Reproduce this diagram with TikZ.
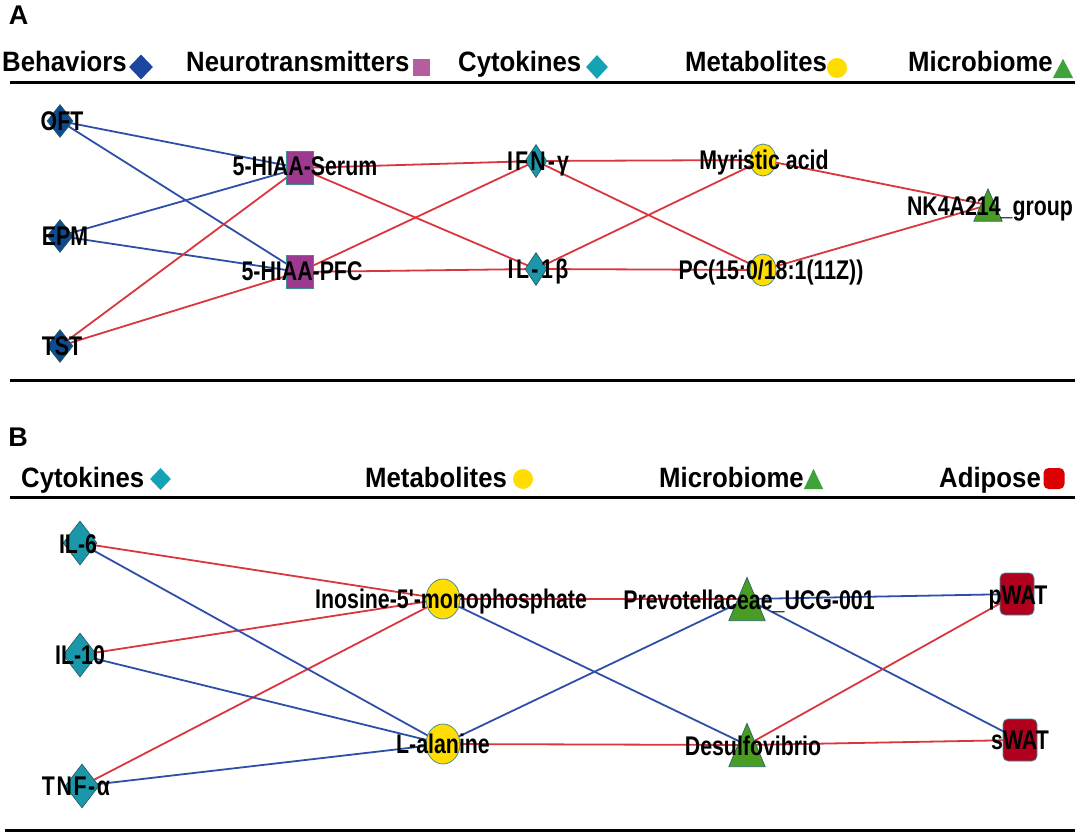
\documentclass[tikz,border=0pt]{standalone}
\usepackage{fontspec}
\setmainfont{Liberation Sans}[Ligatures=TeXOff]
\newfontfamily\hdrfont{Liberation Sans}[FakeStretch=0.92, Ligatures=TeXOff]
\newfontfamily\lblfont{Liberation Sans}[FakeStretch=0.79, Ligatures=TeXOff]
\usetikzlibrary{shapes.geometric}
\pgfdeclarelayer{bg}
\pgfsetlayers{bg,main}
\definecolor{edgered}{RGB}{217,54,62}
\definecolor{edgeblue}{RGB}{46,79,168}
\definecolor{behhead}{RGB}{28,71,160}
\definecolor{behnode}{RGB}{15,76,143}
\definecolor{neurohead}{RGB}{184,92,160}
\definecolor{neuronode}{RGB}{155,58,142}
\definecolor{cythead}{RGB}{19,163,180}
\definecolor{cytnode}{RGB}{26,152,170}
\definecolor{metyellow}{RGB}{255,221,0}
\definecolor{microhead}{RGB}{61,163,58}
\definecolor{micronode}{RGB}{74,157,36}
\definecolor{adihead}{RGB}{221,0,0}
\definecolor{adinode}{RGB}{176,0,30}
\definecolor{nodeborder}{RGB}{62,142,149}
\begin{document}
\begin{tikzpicture}[x=1pt,y=-1pt,
  hdr/.style={font=\hdrfont\fontsize{28}{28}\selectfont\bfseries, anchor=base west, inner sep=0pt},
  lbl/.style={font=\lblfont\fontsize{27}{27}\selectfont\bfseries, inner sep=0pt, text height=19pt, text depth=0pt},
  panel/.style={font=\fontsize{27}{27}\selectfont\bfseries, inner sep=0pt, text height=19pt, text depth=0pt},
  rule/.style={line width=3pt, black},
  redE/.style={draw=edgered, line width=1.8pt},
  blueE/.style={draw=edgeblue, line width=1.8pt},
  sdia/.style={diamond, inner sep=0pt, draw=none},
  ndia/.style={diamond, inner sep=0pt, draw=nodeborder!60!black, line width=0.6pt},
  nsq/.style={rectangle, inner sep=0pt, fill=neuronode, draw=nodeborder, line width=0.8pt},
  nell/.style={ellipse, inner sep=0pt, fill=metyellow, draw=nodeborder!80!gray, line width=0.8pt},
  nbox/.style={rectangle, inner sep=0pt, draw=none},
  ntri/.style={fill=micronode, draw=nodeborder!70!black, line width=0.7pt},
  nadi/.style={rectangle, rounded corners=5pt, inner sep=0pt, fill=adinode, draw=nodeborder, line width=0.8pt}
]
\useasboundingbox (0,0) rectangle (1080,837);

%% ---------------- Panel A ----------------
\node[panel] (pA) at (18.5,15) {A};
\node[hdr] (hBeh) at (2,72) {Behaviors};
\node[sdia, fill=behhead, minimum width=24pt, minimum height=25pt] (sBeh) at (141,67) {};
\node[hdr] (hNeu) at (186,72) {Neurotransmitters};
\node[rectangle, inner sep=0pt, fill=neurohead, minimum width=17pt, minimum height=17pt] (sNeu) at (421,68) {};
\node[hdr] (hCytA) at (458,72) {Cytokines};
\node[sdia, fill=cythead, minimum width=22pt, minimum height=24pt] (sCytA) at (597,67) {};
\node[hdr] (hMetA) at (685,72) {Metabolites};
\node[circle, inner sep=0pt, fill=metyellow, minimum size=20pt] (sMetA) at (837,68) {};
\node[hdr] (hMicA) at (908,72) {Microbiome};
\node[nbox, minimum width=20pt, minimum height=19pt] (sMicA) at (1063,68.5) {};
\fill[microhead] (sMicA.south west) -- (sMicA.south east) -- (sMicA.north) -- cycle;
\draw[rule] (10,83) -- (1075,83);
\draw[rule] (10,380) -- (1075,380);

% nodes A
\node[ndia, fill=behnode, minimum width=26pt, minimum height=33pt] (oft) at (60,121) {};
\node[ndia, fill=behnode, minimum width=26pt, minimum height=33pt] (epm) at (60,236) {};
\node[ndia, fill=behnode, minimum width=26pt, minimum height=33pt] (tst) at (60,346) {};
\node[nsq, minimum width=27pt, minimum height=33pt] (ser) at (299.5,168) {};
\node[nsq, minimum width=27pt, minimum height=33pt] (pfc) at (299.5,272) {};
\node[ndia, fill=cytnode, minimum width=22pt, minimum height=33pt] (ifn) at (536,161) {};
\node[ndia, fill=cytnode, minimum width=22pt, minimum height=33pt] (ilb) at (536,269) {};
\node[nell, minimum width=26pt, minimum height=32pt] (myr) at (763,160) {};
\node[nell, minimum width=26pt, minimum height=32pt] (pc) at (763,270) {};
\node[nbox, minimum width=28pt, minimum height=32pt] (nk) at (988,205) {};
\filldraw[ntri] (nk.south west) -- (nk.south east) -- (nk.north) -- cycle;

% edges A
\begin{pgfonlayer}{bg}
\draw[blueE] (oft.center) -- (ser.center);
\draw[blueE] (oft.center) -- (pfc.center);
\draw[blueE] (epm.center) -- (ser.center);
\draw[blueE] (epm.center) -- (pfc.center);
\draw[redE] (tst.center) -- (ser.center);
\draw[redE] (tst.center) -- (pfc.center);
\draw[redE] (ser.center) -- (ifn.center);
\draw[redE] (ser.center) -- (ilb.center);
\draw[redE] (pfc.center) -- (ifn.center);
\draw[redE] (pfc.center) -- (ilb.center);
\draw[redE] (ifn.center) -- (myr.center);
\draw[redE] (ifn.center) -- (pc.center);
\draw[redE] (ilb.center) -- (myr.center);
\draw[redE] (ilb.center) -- (pc.center);
\draw[redE] (myr.center) -- (nk.center);
\draw[redE] (pc.center) -- (nk.center);
\end{pgfonlayer}

% labels A
\node[lbl] (tOft) at (62,121) {OFT};
\node[lbl] (tEpm) at (65,236) {EPM};
\node[lbl] (tTst) at (62,346) {TST};
\node[lbl] (tSer) at (305,166) {5-HIAA-Serum};
\node[lbl] (tPfc) at (302,271) {5-HIAA-PFC};
\node[lbl] (tIfn) at (538,161) {\addfontfeature{LetterSpace=8}IFN-γ};
\node[lbl] (tIlb) at (538,269) {\addfontfeature{LetterSpace=9}IL-1β};
\node[lbl] (tMyr) at (764,160) {Myristic acid};
\node[lbl] (tPc) at (771,270) {PC(15:0/18:1(11Z))};
\node[lbl] (tNk) at (990,206) {NK4A214\_group};

%% ---------------- Panel B ----------------
\node[panel] (pB) at (18,437) {B};
\node[hdr] (hCytB) at (21,487) {Cytokines};
\node[sdia, fill=cythead, minimum width=21pt, minimum height=22pt] (sCytB) at (160.5,479) {};
\node[hdr] (hMetB) at (365,487) {Metabolites};
\node[circle, inner sep=0pt, fill=metyellow, minimum size=20pt] (sMetB) at (523,479) {};
\node[hdr] (hMicB) at (659,487) {Microbiome};
\node[nbox, minimum width=19pt, minimum height=20pt] (sMicB) at (813.5,479) {};
\fill[microhead] (sMicB.south west) -- (sMicB.south east) -- (sMicB.north) -- cycle;
\node[hdr] (hAdi) at (939,487) {Adipose};
\node[rectangle, rounded corners=5pt, inner sep=0pt, fill=adihead, minimum width=21pt, minimum height=21pt] (sAdi) at (1054,478.5) {};
\draw[rule] (10,497) -- (1075,497);
\draw[rule] (5,830) -- (1075,830);

% nodes B
\node[ndia, fill=cytnode, minimum width=34pt, minimum height=44pt] (il6) at (80,543) {};
\node[ndia, fill=cytnode, minimum width=34pt, minimum height=44pt] (il10) at (80,655) {};
\node[ndia, fill=cytnode, minimum width=34pt, minimum height=44pt] (tnf) at (82,786) {};
\node[nell, minimum width=34pt, minimum height=40pt] (ino) at (443,599) {};
\node[nell, minimum width=34pt, minimum height=40pt] (ala) at (443,744) {};
\node[nbox, minimum width=36pt, minimum height=43pt] (prev) at (747,599) {};
\filldraw[ntri] (prev.south west) -- (prev.south east) -- (prev.north) -- cycle;
\node[nbox, minimum width=36pt, minimum height=43pt] (des) at (747,745) {};
\filldraw[ntri] (des.south west) -- (des.south east) -- (des.north) -- cycle;
\node[nadi, minimum width=34pt, minimum height=42pt] (pwat) at (1017,594) {};
\node[nadi, minimum width=34pt, minimum height=42pt] (swat) at (1020,740) {};

% edges B
\begin{pgfonlayer}{bg}
\draw[redE] (il6.center) -- (ino.center);
\draw[redE] (il10.center) -- (ino.center);
\draw[redE] (tnf.center) -- (ino.center);
\draw[blueE] (il6.center) -- (ala.center);
\draw[blueE] (il10.center) -- (ala.center);
\draw[blueE] (tnf.center) -- (ala.center);
\draw[redE] (ino.center) -- (prev.center);
\draw[blueE] (ino.center) -- (des.center);
\draw[blueE] (ala.center) -- (prev.center);
\draw[redE] (ala.center) -- (des.center);
\draw[blueE] (prev.center) -- (pwat.center);
\draw[blueE] (prev.center) -- (swat.center);
\draw[redE] (des.center) -- (pwat.center);
\draw[redE] (des.center) -- (swat.center);
\end{pgfonlayer}

% labels B
\node[lbl] (tIl6) at (78,544) {IL-6};
\node[lbl] (tIl10) at (80,655) {IL-10};
\node[lbl] (tTnf) at (76,786) {\addfontfeature{LetterSpace=6}TNF-α};
\node[lbl] (tIno) at (451,599) {Inosine-5'-monophosphate};
\node[lbl] (tAla) at (443,744) {L-alanine};
\node[lbl] (tPrev) at (749,600) {Prevotellaceae\_UCG-001};
\node[lbl] (tDes) at (753,746) {Desulfovibrio};
\node[lbl] (tPwat) at (1018,595) {pWAT};
\node[lbl] (tSwat) at (1020,740) {sWAT};
\end{tikzpicture}
\end{document}
